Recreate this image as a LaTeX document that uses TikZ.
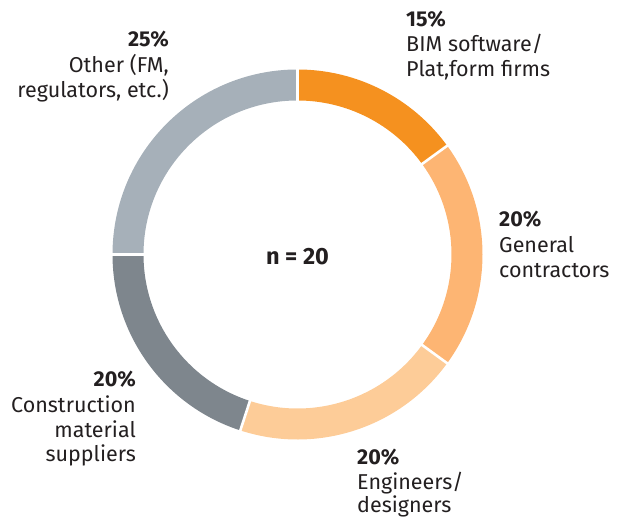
\documentclass[tikz,border=0pt]{standalone}
\usepackage{fontspec}
\setmainfont{Fira Sans}
\usetikzlibrary{calc}
\definecolor{cOrange}{HTML}{F5911F}
\definecolor{cMid}{HTML}{FDB573}
\definecolor{cLight}{HTML}{FDCC98}
\definecolor{cDark}{HTML}{7E868D}
\definecolor{cGrey}{HTML}{A6B0B9}
\definecolor{txt}{HTML}{231F20}
\tikzset{
  lbl/.style={inner sep=0pt, text=txt, font=\fontsize{21.5}{25}\selectfont},
  pct/.style={inner sep=0pt, text=txt, font=\fontsize{21.5}{25}\selectfont\bfseries},
  sep/.style={draw=white, line width=2.6pt}
}
\newcommand{\seg}[3]{% color, start, end
  \fill[#1] ($(c)+(#2:185)$) arc[start angle=#2, end angle=#3, radius=185]
    -- ($(c)+(#3:154)$) arc[start angle=#3, end angle=#2, radius=154] -- cycle;}
\newcommand{\gapline}[1]{\draw[sep] ($(c)+(#1:152)$) -- ($(c)+(#1:187)$);}
\begin{document}
\begin{tikzpicture}[x=1pt,y=1pt]
\useasboundingbox (0,0) rectangle (622,518);
\coordinate (c) at (297.5,263.5);
\seg{cOrange}{90}{36}
\seg{cMid}{36}{-36}
\seg{cLight}{-36}{-108}
\seg{cDark}{-108}{-180}
\seg{cGrey}{180}{90}
\gapline{90}\gapline{36}\gapline{-36}\gapline{-108}\gapline{180}
\node[inner sep=0pt, text=txt, font=\fontsize{23.5}{27}\selectfont\bfseries, anchor=base] (n) at (297.5,253) {n = 20};
% BIM
\node[pct, anchor=base west] (a1) at (406,491) {15\%};
\node[lbl, anchor=base west] (a2) at (406,466) {BIM software/};
\node[lbl, anchor=base west] (a3) at (406,441) {Plat,form firms};
% General contractors
\node[pct, anchor=base west] (b1) at (499,291) {20\%};
\node[lbl, anchor=base west] (b2) at (499,265) {General};
\node[lbl, anchor=base west] (b3) at (499,240) {contractors};
% Engineers
\node[pct, anchor=base west] (d1) at (357,53) {20\%};
\node[lbl, anchor=base west] (d2) at (357,28) {Engineers/};
\node[lbl, anchor=base west] (d3) at (357,5) {designers};
% Construction
\node[pct, anchor=base east] (e1) at (136,131) {20\%};
\node[lbl, anchor=base east] (e2) at (136,105) {Construction};
\node[lbl, anchor=base east] (e3) at (136,80) {material};
\node[lbl, anchor=base east] (e4) at (136,56) {suppliers};
% Other
\node[pct, anchor=base east] (f1) at (169,471) {25\%};
\node[lbl, anchor=base east] (f2) at (169,445) {Other (FM,};
\node[lbl, anchor=base east] (f3) at (169,420) {regulators, etc.)};
\end{tikzpicture}
\end{document}
